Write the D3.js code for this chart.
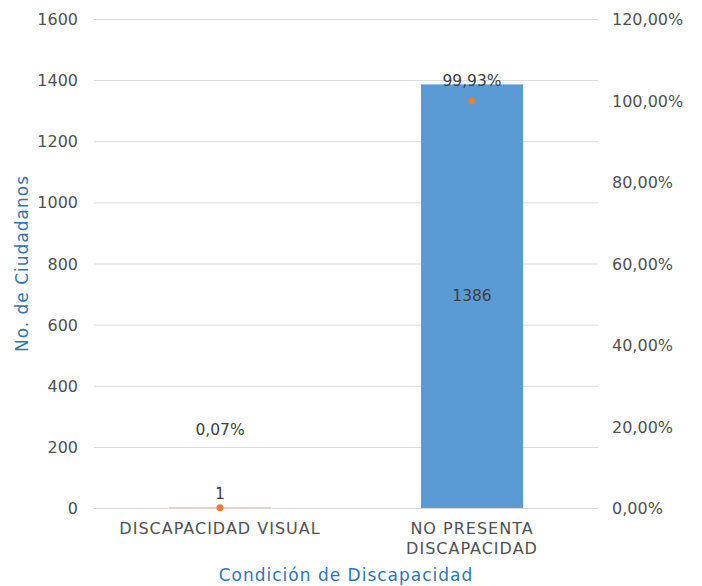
<!DOCTYPE html>
<html><head><meta charset="utf-8">
<script src="https://cdn.jsdelivr.net/npm/d3@7"></script>
<style>body{margin:0;background:#fff}svg{display:block}</style>
</head><body><svg id="c" width="702" height="586"></svg>
<script>
const categories = ["DISCAPACIDAD VISUAL", "NO PRESENTA DISCAPACIDAD"];
const categoryLines = [["DISCAPACIDAD VISUAL"], ["NO PRESENTA", "DISCAPACIDAD"]];
const counts = [1, 1386];
const percents = [0.0007, 0.9993];
const percentLabels = ["0,07%", "99,93%"];
const leftTicks = [0, 200, 400, 600, 800, 1000, 1200, 1400, 1600];
const rightTicks = [0, 0.2, 0.4, 0.6, 0.8, 1.0, 1.2];

const font = "'DejaVu Sans', sans-serif";
const fs = 15.5;
const svg = d3.select("#c");
const m = {l: 94, r: 104, t: 19, b: 78};
const W = 702, H = 586;
const x = d3.scaleBand().domain(categories).range([m.l, W - m.r]).paddingInner(0.595).paddingOuter(0.2975);
const y = d3.scaleLinear().domain([0, 1600]).range([H - m.b, m.t]);
const y2 = d3.scaleLinear().domain([0, 1.2]).range([H - m.b, m.t]);

// grid
svg.append("g").selectAll("line").data(leftTicks).join("line")
  .attr("x1", m.l).attr("x2", W - m.r)
  .attr("y1", d => y(d) + 0.5).attr("y2", d => y(d) + 0.5)
  .attr("stroke", "#d9d9d9").attr("stroke-width", 1);

// left axis
const la = svg.append("g").attr("transform", `translate(${m.l - 16},0)`)
  .call(d3.axisLeft(y).tickValues(leftTicks).tickSize(0).tickPadding(0).tickFormat(d3.format("d")));
la.select(".domain").remove();
la.selectAll("text").attr("font-family", font).attr("font-size", 16).attr("fill", "#505050").attr("dy", "0.35em");

// right axis
const fmtPct = d => d3.format(".2f")(d * 100).replace(".", ",") + "%";
const ra = svg.append("g").attr("transform", `translate(${W - m.r + 14},0)`)
  .call(d3.axisRight(y2).tickValues(rightTicks).tickSize(0).tickPadding(0).tickFormat(fmtPct));
ra.select(".domain").remove();
ra.selectAll("text").attr("font-family", font).attr("font-size", 16).attr("fill", "#505050").attr("dy", "0.35em");

// bars
svg.append("g").selectAll("rect").data(categories).join("rect")
  .attr("x", d => x(d)).attr("width", x.bandwidth())
  .attr("y", (d, i) => Math.min(y(counts[i]), y(0) - 1))
  .attr("height", (d, i) => Math.max(y(0) - y(counts[i]), 1))
  .attr("fill", (d, i) => counts[i] < 10 ? "#bdd7ee" : "#5b9bd5");

// count labels
svg.append("g").selectAll("text").data(categories).join("text")
  .attr("x", d => x(d) + x.bandwidth() / 2)
  .attr("y", (d, i) => counts[i] < 10 ? y(counts[i]) - 9 : (y(counts[i]) + y(0)) / 2 + 5)
  .attr("text-anchor", "middle").attr("font-family", font).attr("font-size", fs).attr("fill", "#404040")
  .text((d, i) => counts[i]);

// percent points
svg.append("g").selectAll("circle").data(categories).join("circle")
  .attr("cx", d => x(d) + x.bandwidth() / 2).attr("cy", (d, i) => y2(percents[i]))
  .attr("r", 3.5).attr("fill", "#ed7d31");

// percent labels
const pctOffsets = [-73, -15];
svg.append("g").selectAll("text").data(categories).join("text")
  .attr("x", d => x(d) + x.bandwidth() / 2)
  .attr("y", (d, i) => y2(percents[i]) + pctOffsets[i])
  .attr("text-anchor", "middle").attr("font-family", font).attr("font-size", fs).attr("fill", "#404040")
  .text((d, i) => percentLabels[i]);

// category labels
const cg = svg.append("g");
categories.forEach((c, i) => {
  const t = cg.append("text").attr("x", x(c) + x.bandwidth() / 2).attr("y", H - m.b + 26)
    .attr("text-anchor", "middle").attr("font-family", font).attr("font-size", 16).attr("letter-spacing", 1)
    .attr("fill", "#505050");
  categoryLines[i].forEach((ln, j) => t.append("tspan").attr("x", x(c) + x.bandwidth() / 2).attr("dy", j ? 20 : 0).text(ln));
});

// axis titles
svg.append("text").attr("x", (m.l + W - m.r) / 2).attr("y", 581).attr("text-anchor", "middle")
  .attr("font-family", font).attr("font-size", 17).attr("letter-spacing", 1).attr("fill", "#2e75b6").text("Condición de Discapacidad");
svg.append("text").attr("transform", `translate(28,${(m.t + H - m.b) / 2}) rotate(-90)`).attr("text-anchor", "middle")
  .attr("font-family", font).attr("font-size", 17).attr("letter-spacing", 1).attr("fill", "#2e75b6").text("No. de Ciudadanos");
</script></body></html>
